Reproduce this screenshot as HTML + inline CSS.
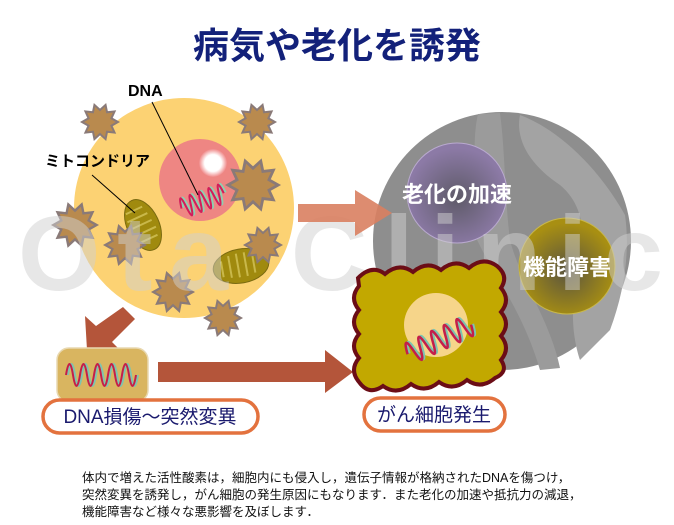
<!DOCTYPE html>
<html><head><meta charset="utf-8"><style>
html,body{margin:0;padding:0;background:#fff;}
svg{display:block;font-family:"Liberation Sans","Noto Sans CJK JP",sans-serif;}
</style></head><body>
<svg width="674" height="525" viewBox="0 0 674 525" xmlns="http://www.w3.org/2000/svg">
<defs>
<polygon id="st" points="18,0 11.41,3.71 14.56,10.58 7.05,9.71 5.56,17.12 0,12 -5.56,17.12 -7.05,9.71 -14.56,10.58 -11.41,3.71 -18,0 -11.41,-3.71 -14.56,-10.58 -7.05,-9.71 -5.56,-17.12 0,-12 5.56,-17.12 7.05,-9.71 14.56,-10.58 11.41,-3.71" fill="#b98a4e" stroke="#8a7a78" stroke-width="2"/>
<radialGradient id="gp" cx="0.5" cy="0.55" r="0.5"><stop offset="0" stop-color="#5e5a68"/><stop offset="1" stop-color="#8c7aa6"/></radialGradient>
<radialGradient id="go" cx="0.5" cy="0.55" r="0.5"><stop offset="0" stop-color="#5a5440"/><stop offset="1" stop-color="#a88f12"/></radialGradient>
<radialGradient id="gw" cx="0.5" cy="0.5" r="0.5"><stop offset="0" stop-color="#fff"/><stop offset="0.6" stop-color="#fff"/><stop offset="1" stop-color="#f08a8a"/></radialGradient>
</defs>
<!-- gray circle -->
<circle cx="502" cy="241" r="129" fill="#8e8e8e"/>
<path d="M520 115 C515 140 530 165 560 185 C590 210 585 250 575 290 C570 320 575 345 580 360 L610 330 C625 290 630 250 625 215 C600 170 560 130 520 115 Z" fill="#a3a3a3"/>
<path d="M478 114 C470 150 480 180 470 220 C480 260 520 300 540 370 L560 368 C550 320 520 280 510 240 C505 200 505 150 500 113 Z" fill="#9b9b9b"/>
<circle cx="457" cy="193" r="50" fill="url(#gp)" stroke="#b9a9cf" stroke-width="1"/>
<circle cx="567" cy="266" r="48" fill="url(#go)" stroke="#c9b84a" stroke-width="1"/>
<!-- yellow cell -->
<circle cx="184" cy="208" r="111" fill="#fcd273" stroke="#fff" stroke-width="2"/>
<circle cx="200" cy="180" r="41" fill="#ee8683"/>
<circle cx="213" cy="163" r="14" fill="url(#gw)"/>
<path d="M182 200 q2.5 -20 5 0 q2.5 20 5 0 q2.5 -20 5 0 q2.5 20 5 0 q2.5 -20 5 0 q2.5 20 5 0 q2.5 -20 5 0 q2.5 20 5 0 q2.5 -20 5 0" transform="rotate(-20 205 200)" fill="none" stroke="#8ecfb0" stroke-width="2"/>
<path d="M180 200 q2.5 -20 5 0 q2.5 20 5 0 q2.5 -20 5 0 q2.5 20 5 0 q2.5 -20 5 0 q2.5 20 5 0 q2.5 -20 5 0 q2.5 20 5 0 q2.5 -20 5 0" transform="rotate(-20 205 200)" fill="none" stroke="#d21d5a" stroke-width="2"/>
<!-- mitochondria -->
<ellipse cx="143" cy="225" rx="16" ry="27" transform="rotate(-25 143 225)" fill="#a08a0e" stroke="#7a6a10"/>
<path d="M132 208 h18 M130 216 h22 M129 224 h24 M130 232 h24 M132 240 h20" transform="rotate(-25 143 225)" stroke="#c9b84a" stroke-width="2"/>
<ellipse cx="241" cy="266" rx="28" ry="17" transform="rotate(-10 241 266)" fill="#a08a0e" stroke="#7a6a10"/>
<path d="M222 258 v16 M230 254 v22 M238 253 v24 M246 253 v24 M254 255 v20" transform="rotate(-10 241 266)" stroke="#c9b84a" stroke-width="2"/>
<!-- stars -->
<use href="#st" transform="translate(100,122)"/>
<use href="#st" transform="translate(257,122)"/>
<use href="#st" transform="translate(253,185) scale(1.4)"/>
<use href="#st" transform="translate(75,225) scale(1.2)"/>
<use href="#st" transform="translate(125,245) scale(1.1)"/>
<use href="#st" transform="translate(263,245)"/>
<use href="#st" transform="translate(173,292) scale(1.1)"/>
<use href="#st" transform="translate(223,318)"/>
<!-- labels -->
<text x="128" y="96" font-size="16" font-weight="bold" fill="#000">DNA</text>
<line x1="152" y1="102" x2="198" y2="195" stroke="#000" stroke-width="1"/>
<text x="45" y="166" font-size="15" font-weight="bold" fill="#000">ミトコンドリア</text>
<line x1="92" y1="175" x2="135" y2="213" stroke="#000" stroke-width="1"/>
<!-- watermark -->
<text x="18" y="290" font-size="106" font-weight="bold" fill="#cfcfcf" fill-opacity="0.5" textLength="645" lengthAdjust="spacing">Ota Clinic</text>
<text x="457" y="202" font-size="22" font-weight="bold" fill="#fff" text-anchor="middle">老化の加速</text>
<text x="567" y="275" font-size="22" font-weight="bold" fill="#fff" text-anchor="middle">機能障害</text>
<!-- right arrow -->
<path d="M298 204 H355 V190 L392 213 L355 236 V222 H298 Z" fill="#d98060" opacity="0.9"/>
<!-- down-left arrow -->
<path d="M123 307 L135 319 L112 342 L122 352 L87 350 L85 316 L96 326 Z" fill="#b4553a"/>
<!-- bottom arrow -->
<path d="M158 362 H325 V350 L353 372 L325 393 V382 H158 Z" fill="#b4553a"/>
<!-- cancer cell -->
<path d="M358 278 q14 -14 27 -4 q14 -12 28 -2 q14 -12 28 -2 q14 -12 28 -2 q14 -12 28 -2 q12 10 4 22 q10 12 0 24 q10 12 0 24 q10 12 0 24 q8 12 -6 18 q-14 12 -28 2 q-14 12 -28 2 q-14 12 -28 2 q-14 12 -28 2 q-14 10 -24 -4 q-10 -12 0 -24 q-10 -12 0 -24 q-10 -12 0 -24 q-10 -12 0 -24 Z" fill="#c2a800" stroke="#6b0d16" stroke-width="4"/>
<circle cx="436" cy="325" r="32" fill="#f6d58a"/>
<path d="M402 340 q3.5 -22 7 0 q3.5 22 7 0 q3.5 -22 7 0 q3.5 22 7 0 q3.5 -22 7 0 q3.5 22 7 0 q3.5 -22 7 0 q3.5 22 7 0 q3.5 -22 7 0 q3.5 22 7 0" transform="rotate(-25 436 330)" fill="none" stroke="#7dc4b0" stroke-width="2.5"/>
<path d="M400 340 q3.5 -22 7 0 q3.5 22 7 0 q3.5 -22 7 0 q3.5 22 7 0 q3.5 -22 7 0 q3.5 22 7 0 q3.5 -22 7 0 q3.5 22 7 0 q3.5 -22 7 0 q3.5 22 7 0" transform="rotate(-25 436 330)" fill="none" stroke="#c41e4a" stroke-width="2.5"/>
<!-- DNA box -->
<rect x="57" y="348" width="91" height="54" rx="12" fill="#d9b560" stroke="#e8d8b0" stroke-width="1.5"/>
<path d="M68 375 q3.5 -22 7 0 q3.5 22 7 0 q3.5 -22 7 0 q3.5 22 7 0 q3.5 -22 7 0 q3.5 22 7 0 q3.5 -22 7 0 q3.5 22 7 0 q3.5 -22 7 0 q3.5 22 7 0" fill="none" stroke="#7dc4b0" stroke-width="2"/>
<path d="M66 375 q3.5 -22 7 0 q3.5 22 7 0 q3.5 -22 7 0 q3.5 22 7 0 q3.5 -22 7 0 q3.5 22 7 0 q3.5 -22 7 0 q3.5 22 7 0 q3.5 -22 7 0 q3.5 22 7 0" fill="none" stroke="#c41e4a" stroke-width="2"/>
<!-- pills -->
<rect x="43" y="400" width="215" height="33" rx="16.5" fill="#fff" stroke="#e3723e" stroke-width="3.5"/>
<text x="150" y="423" font-size="19" fill="#1a1a6e" text-anchor="middle">DNA損傷～突然変異</text>
<rect x="364" y="398" width="141" height="33" rx="16.5" fill="#fff" stroke="#e3723e" stroke-width="3.5"/>
<text x="434" y="421" font-size="19" fill="#1a1a6e" text-anchor="middle">がん細胞発生</text>
<!-- title -->
<text x="337" y="58" font-size="36" font-weight="bold" fill="#13217a" text-anchor="middle">病気や老化を誘発</text>
<!-- caption -->
<g font-size="12.5" fill="#111">
<text x="82" y="482">体内で増えた活性酸素は，細胞内にも侵入し，遺伝子情報が格納されたDNAを傷つけ，</text>
<text x="82" y="499">突然変異を誘発し，がん細胞の発生原因にもなります．また老化の加速や抵抗力の減退，</text>
<text x="82" y="516">機能障害など様々な悪影響を及ぼします．</text>
</g>
</svg>
</body></html>
